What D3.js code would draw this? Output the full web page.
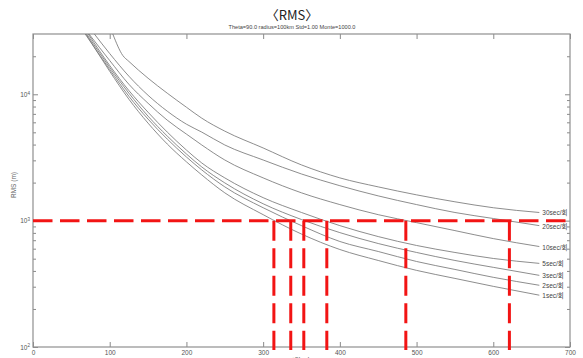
<!DOCTYPE html>
<html>
<head>
<meta charset="utf-8">
<script src="https://d3js.org/d3.v7.min.js"></script>
<style>
  body { margin: 0; background: #fff; }
  svg { display: block; }
  text { font-family: "Liberation Sans", "Noto Sans CJK KR", sans-serif; }
</style>
</head>
<body>
<svg id="chart" width="583" height="358"></svg>
<script>
// values
var seriesNames = ["1sec/회", "2sec/회", "3sec/회", "5sec/회", "10sec/회", "20sec/회", "30sec/회"]

var x1s  = [69, 100, 125, 150, 175, 200, 220, 250, 300, 350, 400, 450, 500, 550, 600, 660]
var y1s  = [30000, 15200, 9140, 5910, 4040, 2920, 2300, 1660, 1115, 783, 591, 484, 404, 349, 302, 257]

var x2s  = [68, 100, 125, 150, 175, 200, 220, 250, 300, 350, 400, 450, 500, 550, 600, 660]
var y2s  = [30000, 15700, 9640, 6360, 4420, 3190, 2520, 1850, 1265, 913, 684, 570, 475, 411, 356, 308]

var x3s  = [70, 100, 125, 150, 175, 200, 220, 250, 300, 350, 400, 450, 500, 550, 600, 660]
var y3s  = [30000, 16300, 10200, 6710, 4670, 3370, 2660, 1990, 1360, 1020, 804, 659, 560, 484, 427, 369]

var x5s  = [72, 100, 125, 150, 175, 200, 220, 250, 300, 350, 400, 450, 500, 550, 600, 660]
var y5s  = [30000, 16900, 10700, 7210, 5020, 3620, 2860, 2180, 1520, 1160, 913, 748, 636, 560, 502, 459]

var x10s = [73, 100, 125, 150, 175, 200, 220, 250, 300, 350, 400, 450, 500, 550, 600, 660]
var y10s = [30000, 18500, 12000, 8490, 6240, 4840, 3970, 3020, 2180, 1660, 1340, 1115, 964, 834, 721, 624]

var x20s = [80, 100, 125, 150, 175, 200, 220, 250, 300, 350, 400, 450, 500, 550, 600, 660]
var y20s = [30000, 21000, 13900, 9820, 7350, 5800, 5020, 3970, 3020, 2340, 1890, 1570, 1340, 1160, 1040, 913]

var x30s = [104, 117, 125, 150, 175, 200, 220, 250, 300, 350, 400, 450, 500, 550, 600, 660]
var y30s = [30000, 20300, 18200, 13400, 10200, 7900, 6470, 5110, 3760, 2760, 2180, 1850, 1600, 1410, 1265, 1160]

var refLevel = 1000
var crossX = [314, 336, 353, 383, 486, 621]

var xTicks = [0, 100, 200, 300, 400, 500, 600, 700]
var yMajor = [100, 1000, 10000]
var yMinor = [200, 300, 400, 500, 600, 700, 800, 900,
              2000, 3000, 4000, 5000, 6000, 7000, 8000, 9000, 20000]

var titleText = "〈RMS〉"
var subTitle = "Theta=90.0 radius=100km Std=1.00 Monte=1000.0"
var yLabel = "RMS (m)"
var xLabel = "시간 (초)"

var series = [
  {name: seriesNames[0], xs: x1s, ys: y1s},
  {name: seriesNames[1], xs: x2s, ys: y2s},
  {name: seriesNames[2], xs: x3s, ys: y3s},
  {name: seriesNames[3], xs: x5s, ys: y5s},
  {name: seriesNames[4], xs: x10s, ys: y10s},
  {name: seriesNames[5], xs: x20s, ys: y20s},
  {name: seriesNames[6], xs: x30s, ys: y30s}
]

var plotL = 33, plotR = 570, plotT = 34, plotB = 347

var x = d3.scaleLinear().domain([0, 700]).range([plotL, plotR])
var y = d3.scaleLog().domain([100, 30000]).range([plotB, plotT])

var svg = d3.select("#chart")

svg.append("defs").append("clipPath").attr("id", "plotclip")
  .append("rect")
  .attr("x", plotL).attr("y", plotT)
  .attr("width", plotR - plotL).attr("height", plotB - plotT)

// titles
svg.append("text")
  .attr("x", 292).attr("y", 20)
  .attr("text-anchor", "middle")
  .style("font-family", "'Noto Sans CJK KR', sans-serif")
  .style("font-size", "13px")
  .style("fill", "#222")
  .text(titleText)

svg.append("text")
  .attr("x", 292).attr("y", 28.5)
  .attr("text-anchor", "middle")
  .style("font-size", "5.6px")
  .style("fill", "#444")
  .text(subTitle)

// axes
function styleAxis(g) {
  g.select(".domain").remove()
  g.selectAll(".tick line").attr("stroke", "#8a8a8a").attr("stroke-width", 1)
  g.selectAll(".tick text").style("font-size", "6.5px").style("fill", "#555")
}

svg.append("g")
  .attr("transform", `translate(0,${plotB})`)
  .call(d3.axisBottom(x).tickValues(xTicks).tickSize(-5).tickSizeOuter(0).tickPadding(3))
  .call(styleAxis)

svg.append("g")
  .attr("transform", `translate(0,${plotT})`)
  .call(d3.axisTop(x).tickValues(xTicks).tickSize(-5).tickSizeOuter(0).tickFormat(""))
  .call(styleAxis)

var yl = svg.append("g")
  .attr("transform", `translate(${plotL},0)`)
  .call(d3.axisLeft(y).tickValues(yMajor).tickSize(-5).tickSizeOuter(0).tickPadding(3))
  .call(styleAxis)

yl.selectAll(".tick text").each(function(d) {
  var t = d3.select(this).text(null)
  t.append("tspan").text("10")
  t.append("tspan").attr("dy", "-0.5em").style("font-size", "4.5px")
    .text(Math.round(Math.log10(d)))
})

svg.append("g")
  .attr("transform", `translate(${plotL},0)`)
  .call(d3.axisLeft(y).tickValues(yMinor).tickSize(-3).tickSizeOuter(0).tickFormat(""))
  .call(styleAxis)

svg.append("g")
  .attr("transform", `translate(${plotR},0)`)
  .call(d3.axisRight(y).tickValues(yMajor).tickSize(-5).tickSizeOuter(0).tickFormat(""))
  .call(styleAxis)

svg.append("g")
  .attr("transform", `translate(${plotR},0)`)
  .call(d3.axisRight(y).tickValues(yMinor).tickSize(-3).tickSizeOuter(0).tickFormat(""))
  .call(styleAxis)

// frame
svg.append("rect")
  .attr("x", plotL).attr("y", plotT)
  .attr("width", plotR - plotL).attr("height", plotB - plotT)
  .attr("fill", "none")
  .attr("stroke", "#8f8f8f")
  .attr("stroke-width", 1.2)

// axis labels
svg.append("text")
  .attr("transform", `translate(16,185) rotate(-90)`)
  .attr("text-anchor", "middle")
  .style("font-size", "6.5px")
  .style("fill", "#666")
  .text(yLabel)

svg.append("text")
  .attr("x", 301).attr("y", 363)
  .attr("text-anchor", "middle")
  .style("font-size", "7px")
  .style("fill", "#555")
  .text(xLabel)

// curves
var line = d3.line()
  .x(d => x(d[0]))
  .y(d => y(d[1]))
  .curve(d3.curveMonotoneX)

var plot = svg.append("g").attr("clip-path", "url(#plotclip)")

plot.selectAll("path.curve")
  .data(series)
  .enter().append("path")
  .attr("class", "curve")
  .attr("d", s => line(s.xs.map((v, i) => [v, s.ys[i]])))
  .attr("fill", "none")
  .attr("stroke", "#787878")
  .attr("stroke-width", 0.85)

svg.selectAll("text.lbl")
  .data(series)
  .enter().append("text")
  .attr("class", "lbl")
  .attr("x", s => x(s.xs[s.xs.length - 1]) + 3)
  .attr("y", s => y(s.ys[s.ys.length - 1]) + 3)
  .style("font-size", "6.5px")
  .style("fill", "#444")
  .text(s => s.name)

// red reference lines
svg.append("line")
  .attr("x1", x(0)).attr("x2", x(700) + 2)
  .attr("y1", y(refLevel)).attr("y2", y(refLevel))
  .attr("stroke", "#f21414")
  .attr("stroke-width", 3)
  .attr("stroke-dasharray", "19.5,7.5")

svg.selectAll("line.vref")
  .data(crossX)
  .enter().append("line")
  .attr("class", "vref")
  .attr("x1", d => x(d)).attr("x2", d => x(d))
  .attr("y1", y(refLevel)).attr("y2", y(100) + 3)
  .attr("stroke", "#f21414")
  .attr("stroke-width", 3)
  .attr("stroke-dasharray", "20,7.5")
</script>
</body>
</html>
